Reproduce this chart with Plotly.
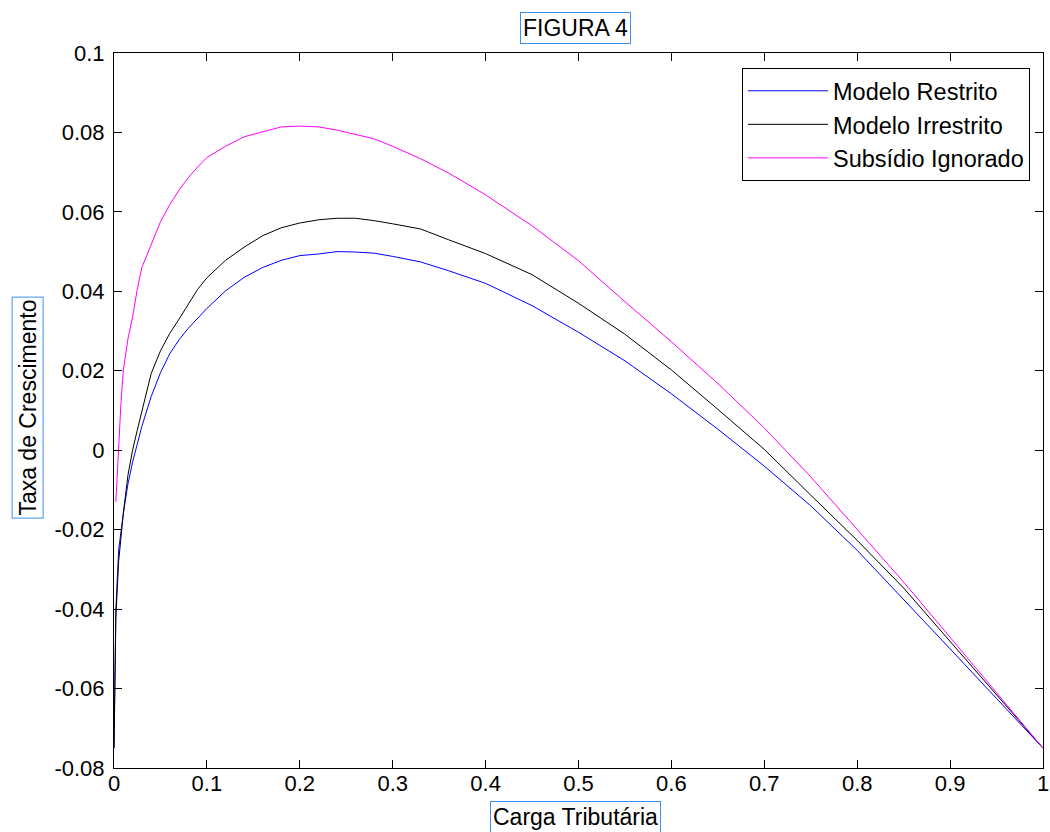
import plotly.graph_objects as go

# Carga Tributária (tax burden) grid
carga = [0, 0.001, 0.002, 0.005, 0.0075, 0.01, 0.015, 0.02, 0.025, 0.03, 0.04, 0.05,
         0.06, 0.07, 0.08, 0.09, 0.1, 0.12, 0.14, 0.16, 0.18, 0.2, 0.22, 0.24, 0.26,
         0.28, 0.3, 0.33, 0.36, 0.4, 0.45, 0.5, 0.55, 0.6, 0.65, 0.7, 0.75, 0.8, 0.85,
         0.9, 0.95, 1.0]

modelo_restrito = [-0.075, -0.0513, -0.040, -0.0251, -0.0205, -0.016, -0.0085, -0.003,
                   0.0015, 0.006, 0.0135, 0.0195, 0.0243, 0.0278, 0.0307, 0.0333, 0.0357,
                   0.0401, 0.0435, 0.046, 0.0478, 0.049, 0.0494, 0.0500, 0.0499, 0.0496,
                   0.0488, 0.0474, 0.0452, 0.0420, 0.0364, 0.0297, 0.0225, 0.0142, 0.0053,
                   -0.0040, -0.0140, -0.0252, -0.0375, -0.050, -0.0625, -0.075]

modelo_irrestrito = [-0.075, -0.054, -0.042, -0.028, -0.0215, -0.016, -0.0063, 0.0,
                     0.0050, 0.010, 0.0193, 0.0250, 0.0294, 0.0330, 0.0368, 0.0405, 0.0434,
                     0.0478, 0.0511, 0.0540, 0.0560, 0.0572, 0.058, 0.0584, 0.0584, 0.0578,
                     0.0570, 0.0557, 0.0530, 0.0495, 0.0442, 0.0370, 0.0292, 0.0202, 0.0103,
                     0.0002, -0.0113, -0.0227, -0.0347, -0.0482, -0.0617, -0.075]

subsidio_ignorado = [None, None, -0.013, 0.002, 0.012, 0.020, 0.028, 0.0335, 0.0405,
                     0.046, 0.052, 0.0575, 0.0618, 0.0655, 0.0686, 0.0713, 0.0737, 0.0765,
                     0.0789, 0.0802, 0.0814, 0.0816, 0.0814, 0.0806, 0.0795, 0.0784, 0.0765,
                     0.0734, 0.0698, 0.0643, 0.0565, 0.0477, 0.0374, 0.0273, 0.0168, 0.0056,
                     -0.0067, -0.0200, -0.0332, -0.0471, -0.061, -0.075]

x_ticks = [0, 0.1, 0.2, 0.3, 0.4, 0.5, 0.6, 0.7, 0.8, 0.9, 1]
x_tick_labels = ["0", "0.1", "0.2", "0.3", "0.4", "0.5", "0.6", "0.7", "0.8", "0.9", "1"]
y_ticks = [-0.08, -0.06, -0.04, -0.02, 0, 0.02, 0.04, 0.06, 0.08, 0.1]
y_tick_labels = ["-0.08", "-0.06", "-0.04", "-0.02", "0", "0.02", "0.04", "0.06", "0.08", "0.1"]

FONT = "Liberation Sans, Arial, sans-serif"
BOXBLUE = "#3d8ff0"
TXT = 23

fig = go.Figure()
fig.add_trace(go.Scatter(x=carga, y=modelo_restrito, mode="lines", name="Modelo Restrito",
                         line=dict(color="#0000FF", width=1)))
fig.add_trace(go.Scatter(x=carga, y=modelo_irrestrito, mode="lines", name="Modelo Irrestrito",
                         line=dict(color="#000000", width=1)))
fig.add_trace(go.Scatter(x=carga, y=subsidio_ignorado, mode="lines", name="Subsídio Ignorado",
                         line=dict(color="#FF00FF", width=1), connectgaps=False))

axis_common = dict(showgrid=False, zeroline=False, showline=True, linecolor="black",
                   linewidth=1, mirror="ticks", ticks="inside", ticklen=8, tickcolor="black",
                   ticklabeloverflow="allow",
                   tickfont=dict(family=FONT, size=22, color="black"))

fig.update_xaxes(range=[0, 1], tickvals=x_ticks, ticktext=x_tick_labels,
                 ticklabelstandoff=-4, **axis_common)
fig.update_yaxes(range=[-0.08, 0.1], tickvals=y_ticks, ticktext=y_tick_labels,
                 ticklabelstandoff=4, **axis_common)

fig.update_layout(
    width=1050, height=832,
    margin=dict(l=114, r=1, t=53, b=64),
    paper_bgcolor="white", plot_bgcolor="white",
    font=dict(family=FONT, size=TXT, color="black"),
    showlegend=True,
    legend=dict(x=0.986, y=0.979, xanchor="right", yanchor="top",
                bordercolor="black", borderwidth=1, bgcolor="white",
                font=dict(family=FONT, size=23.5, color="black"),
                itemwidth=80, tracegroupgap=0),
    annotations=[
        dict(text="FIGURA 4", x=0.497, y=1.035, xref="paper", yref="paper",
             xanchor="center", yanchor="middle", showarrow=False,
             font=dict(family=FONT, size=TXT, color="black"),
             bordercolor=BOXBLUE, borderwidth=1, borderpad=2, bgcolor="white"),
        dict(text="Taxa de Crescimento", x=-0.093, y=0.5035, xref="paper", yref="paper",
             xanchor="center", yanchor="middle", showarrow=False, textangle=-90,
             font=dict(family=FONT, size=TXT, color="black"),
             bordercolor=BOXBLUE, borderwidth=1, borderpad=2, bgcolor="white"),
        dict(text="Carga Tributária", x=0.497, y=-0.0685, xref="paper", yref="paper",
             xanchor="center", yanchor="middle", showarrow=False,
             font=dict(family=FONT, size=TXT, color="black"),
             bordercolor=BOXBLUE, borderwidth=1, borderpad=2, bgcolor="white"),
    ],
)

fig.write_html("out.html", config={"displayModeBar": False},
               post_script="document.body.style.margin='0';")
